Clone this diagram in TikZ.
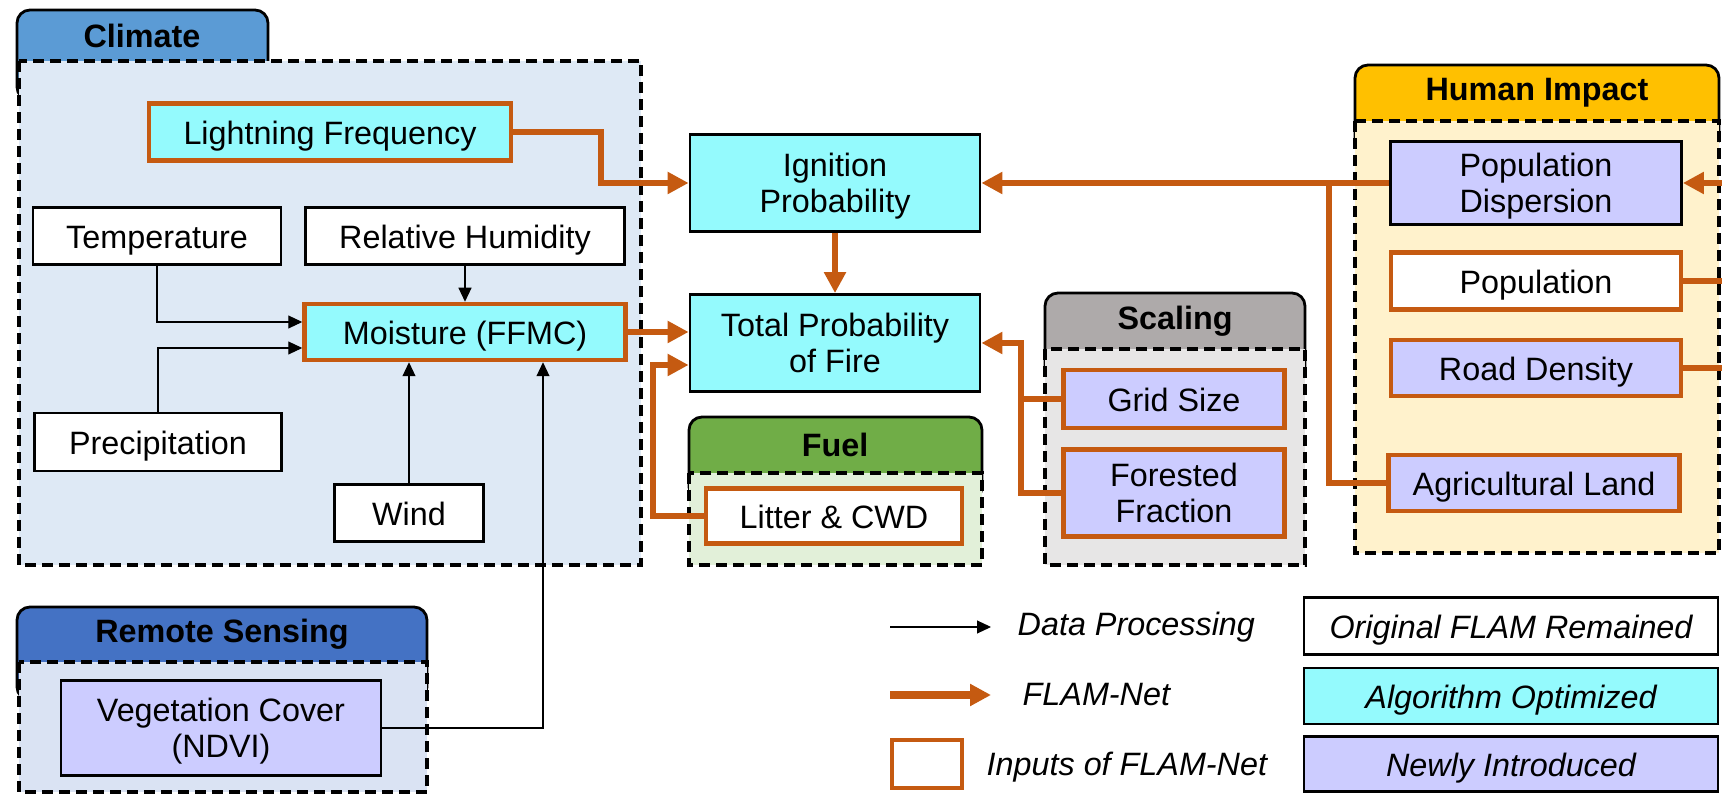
\documentclass[tikz,border=0pt]{standalone}
\usepackage{fontspec}
\setmainfont{Liberation Sans}
\usepackage{tikz}
\usetikzlibrary{arrows.meta, calc}

\definecolor{flamorange}{RGB}{197,90,17}
\definecolor{algo}{RGB}{148,250,253}
\definecolor{newin}{RGB}{204,204,255}
\definecolor{climtab}{RGB}{91,155,213}
\definecolor{climbody}{RGB}{222,233,245}
\definecolor{rstab}{RGB}{68,114,196}
\definecolor{rsbody}{RGB}{218,227,243}
\definecolor{fueltab}{RGB}{112,173,71}
\definecolor{fuelbody}{RGB}{226,240,217}
\definecolor{scaletab}{RGB}{174,170,170}
\definecolor{scalebody}{RGB}{231,230,230}
\definecolor{humantab}{RGB}{255,192,0}
\definecolor{humanbody}{RGB}{255,242,204}

\begin{document}
\begin{tikzpicture}[x=0.1mm, y=-0.1mm,
        font=\fontsize{9.2}{10.3}\selectfont,
        box/.style={draw, line width=0.28mm, inner sep=1pt, align=center, text height=0.9em, text depth=0.21em},
        twoline/.style={text height=, text depth=0pt},
        input/.style={box, draw=flamorange, line width=0.45mm},
        tab/.style={draw, line width=0.28mm, rounded corners=1.3mm},
        grp/.style={draw, line width=0.32mm, dash pattern=on 1.1mm off 0.6mm},
        title/.style={font=\fontsize{9.2}{11}\selectfont\bfseries},
        legtext/.style={font=\fontsize{9.2}{11}\selectfont\itshape, inner sep=0pt, anchor=west},
        proc/.style={-{Triangle[length=1.4mm, width=1.3mm]}, line width=0.3pt},
        net/.style={-{Triangle[length=2.1mm, width=2.1mm]}, draw=flamorange, line width=0.6mm},
        netline/.style={draw=flamorange, line width=0.6mm}]
    \useasboundingbox (0,0) rectangle (1722,794);

    % groups
    \draw[tab, fill=climtab] (17,10) rectangle (268,100);
    \draw[grp, fill=climbody] (19,61) rectangle (641,565);
    \node[title] (climate) at (142,36) {Climate};
    \draw[tab, fill=rstab] (17,607) rectangle (427,700);
    \draw[grp, fill=rsbody] (19,662) rectangle (427,792);
    \node[title] (remote) at (222,634) {Remote Sensing};
    \draw[tab, fill=fueltab] (689,417) rectangle (982,500);
    \draw[grp, fill=fuelbody] (689,473) rectangle (982,565);
    \node[title] (fuel) at (835,445) {Fuel};
    \draw[tab, fill=scaletab] (1045,293) rectangle (1305,380);
    \draw[grp, fill=scalebody] (1045,349) rectangle (1305,565);
    \node[title] (scaling) at (1175,321) {Scaling};
    \draw[tab, fill=humantab] (1355,65) rectangle (1719,150);
    \draw[grp, fill=humanbody] (1355,121) rectangle (1719,553);
    \node[title] (human) at (1537,93) {Human Impact};

    % boxes
    \node[input, fill=algo, minimum width=36.2mm, minimum height=5.7mm] (lightning) at (330,132) {Lightning Frequency};
    \node[box, fill=white, minimum width=24.8mm, minimum height=5.7mm] (temp) at (157,236) {Temperature};
    \node[box, fill=white, minimum width=31.9mm, minimum height=5.7mm] (humid) at (465,236) {Relative Humidity};
    \node[input, fill=algo, minimum width=32.1mm, minimum height=5.6mm] (moist) at (465,332) {Moisture (FFMC)};
    \node[box, fill=white, minimum width=24.7mm, minimum height=5.8mm] (precip) at (158,442) {Precipitation};
    \node[box, fill=white, minimum width=14.9mm, minimum height=5.7mm] (wind) at (409,513) {Wind};
    \node[box, twoline, fill=newin, minimum width=32mm, minimum height=9.5mm] (veg) at (221,728) {Vegetation Cover\\(NDVI)};
    \node[box, twoline, fill=algo, minimum width=29mm, minimum height=9.7mm] (ignit) at (835,183) {Ignition\\Probability};
    \node[box, twoline, fill=algo, minimum width=29mm, minimum height=9.7mm] (total) at (835,343) {Total Probability\\of Fire};
    \node[input, fill=white, minimum width=25.6mm, minimum height=5.5mm] (litter) at (834,516) {Litter \& CWD};
    \node[input, fill=newin, minimum width=22.1mm, minimum height=5.8mm] (grid) at (1174,399) {Grid Size};
    \node[input, twoline, fill=newin, minimum width=22.1mm, minimum height=8.7mm] (forest) at (1174,493) {Forested\\Fraction};
    \node[box, twoline, fill=newin, minimum width=29.1mm, minimum height=8.3mm] (popdisp) at (1536,183) {Population\\Dispersion};
    \node[input, fill=white, minimum width=29mm, minimum height=5.7mm] (pop) at (1536,281) {Population};
    \node[input, fill=newin, minimum width=29mm, minimum height=5.6mm] (road) at (1536,368) {Road Density};
    \node[input, fill=newin, minimum width=29.1mm, minimum height=5.6mm] (agri) at (1534,483) {Agricultural Land};

    % data processing
    \draw[proc] (temp.south) |- ($(moist.west)+(0,-10)$);
    \draw[proc] (precip.north) |- ($(moist.west)+(0,16)$);
    \draw[proc] (humid.south) -- (moist.north);
    \draw[proc] (wind.north) -- (wind.north |- moist.south);
    \draw[proc] (veg.east) -| ($(moist.south)+(78,0)$);

    % flam-net
    \draw[net] (lightning.east) -- +(88,0) |- (ignit.west);
    \draw[net] (moist.east) -- (moist.east -| total.west);
    \draw[net] (litter.west) -- +(-51,0) |- ($(total.west)+(0,22)$);
    \draw[net] (ignit.south) -- (total.north);
    \draw[net] (grid.west) -- +(-40,0) |- (total.east);
    \draw[netline] (forest.west) -| ($(grid.west)+(-40,0)$);
    \draw[net] (popdisp.west) -- (ignit.east);
    \draw[netline] (agri.west) -| ($(popdisp.west)+(-60,0)$);
    \coordinate (edge) at (1722,0);
    \draw[net] (popdisp.east -| edge) -- (popdisp.east);
    \draw[netline] (pop.east) -- (pop.east -| edge);
    \draw[netline] (road.east) -- (road.east -| edge);

    % legend
    \coordinate (dp1) at (890,627);
    \coordinate (dp2) at (991,627);
    \draw[proc] (dp1) -- (dp2);
    \node[legtext] (dptext) at (1017,627) {Data Processing};
    \coordinate (fn1) at (890,695);
    \coordinate (fn2) at (991,695);
    \draw[net, line width=0.8mm] (fn1) -- (fn2);
    \node[legtext] (fntext) at (1022,695) {FLAM-Net};
    \node[draw=flamorange, line width=0.45mm, minimum width=7mm, minimum height=4.8mm] (lsq) at (927,764) {};
    \node[legtext] (sqtext) at (986,767) {Inputs of FLAM-Net};
    \node[box, fill=white, font=\fontsize{9.2}{11}\selectfont\itshape, minimum width=41.4mm, minimum height=5.7mm] (lorig) at (1511,626) {Original FLAM Remained};
    \node[box, fill=algo, font=\fontsize{9.2}{11}\selectfont\itshape, minimum width=41.4mm, minimum height=5.6mm] (lalgo) at (1511,696) {Algorithm Optimized};
    \node[box, fill=newin, font=\fontsize{9.2}{11}\selectfont\itshape, minimum width=41.4mm, minimum height=5.5mm] (lnew) at (1511,764) {Newly Introduced};
\end{tikzpicture}
\end{document}
